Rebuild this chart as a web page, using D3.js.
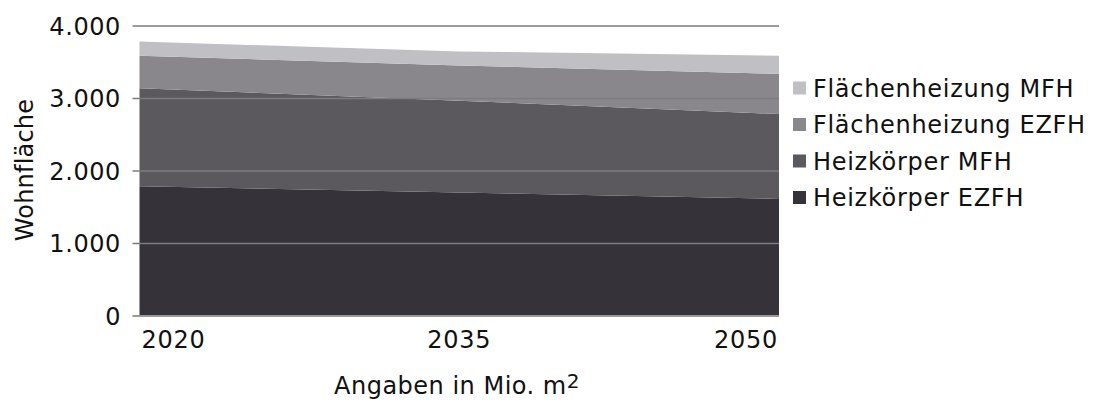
<!DOCTYPE html>
<html><head><meta charset="utf-8">
<script src="https://cdn.jsdelivr.net/npm/d3@7"></script>
<style>
body{margin:0;background:#fff;}
text{font-family:"DejaVu Sans",sans-serif;fill:#111;}
</style></head><body>
<svg id="c" width="1097" height="402"></svg>
<script>
const years = ["2020","2035","2050"];
const seriesNames = ["Heizkörper EZFH","Heizkörper MFH","Flächenheizung EZFH","Flächenheizung MFH"];
const heizkoerperEZFH = [1790, 1705, 1615];
const heizkoerperMFH = [1350, 1265, 1170];
const flaechenEZFH = [450, 485, 555];
const flaechenMFH = [195, 195, 250];
const yTicks = [0, 1000, 2000, 3000, 4000];
const colors = ["#353339","#5b585e","#8a878c","#c0bfc3"];

const table = years.map((y,i)=>({year:y,
  "Heizkörper EZFH":heizkoerperEZFH[i],
  "Heizkörper MFH":heizkoerperMFH[i],
  "Flächenheizung EZFH":flaechenEZFH[i],
  "Flächenheizung MFH":flaechenMFH[i]}));

const svg = d3.select("#c");
const L=139.5, R=779, T=26, B=316;
const x = d3.scalePoint().domain(years).range([L,R]);
const y = d3.scaleLinear().domain([0,4000]).range([B,T]);

const stack = d3.stack().keys(seriesNames)(table);
const area = d3.area().x(d=>x(d.data.year)).y0(d=>y(d[0])).y1(d=>y(d[1]));
svg.append("g").selectAll("path").data(stack).join("path")
  .attr("d",area).attr("fill",(d,i)=>colors[i]);

const fmt = d3.formatLocale({decimal:",",thousands:".",grouping:[3],currency:["","€"]}).format(",.0f");
// gridlines
svg.append("g").selectAll("line").data(yTicks).join("line")
  .attr("x1",L-7).attr("x2",R).attr("y1",d=>y(d)).attr("y2",d=>y(d))
  .attr("stroke",d=>d===0?"#9a9a9a":"#7c7c7e").attr("stroke-width",d=>d===0?2:1.3);

// y tick labels
svg.append("g").selectAll("text").data(yTicks).join("text")
  .attr("x",121).attr("y",d=>y(d)).attr("dy","0.36em")
  .attr("text-anchor","end").attr("font-size",24).attr("letter-spacing","0.6px")
  .text(d=>fmt(d));

// x tick labels
svg.append("g").selectAll("text").data(years).join("text")
  .attr("x",d=>x(d)+(d===years[0]?2:d===years[years.length-1]?-1:0))
  .attr("y",348)
  .attr("text-anchor",(d,i)=>i===0?"start":i===years.length-1?"end":"middle")
  .attr("font-size",24).attr("letter-spacing","0.7px")
  .text(d=>d);

// axis titles
const xt = svg.append("text").attr("x",457).attr("y",394).attr("text-anchor","middle")
  .attr("font-size",24).attr("letter-spacing","0.5px");
xt.append("tspan").text("Angaben in Mio. m");
xt.append("tspan").attr("dy",-6).attr("font-size",20).text("2");

svg.append("text").attr("transform","translate(33,170) rotate(-90)")
  .attr("text-anchor","middle").attr("font-size",24).attr("letter-spacing","0.2px").text("Wohnfläche");

// legend
const legendOrder = seriesNames.map((n,i)=>({n,c:colors[i]})).reverse();
const lg = svg.append("g").selectAll("g").data(legendOrder).join("g")
  .attr("transform",(d,i)=>`translate(793,${88+i*36.5})`);
lg.append("rect").attr("x",0).attr("y",-6.5).attr("width",13).attr("height",13).attr("fill",d=>d.c);
lg.append("text").attr("x",20).attr("y",0).attr("dy","0.36em").attr("font-size",24)
  .attr("letter-spacing","0.7px").text(d=>d.n);
</script></body></html>
